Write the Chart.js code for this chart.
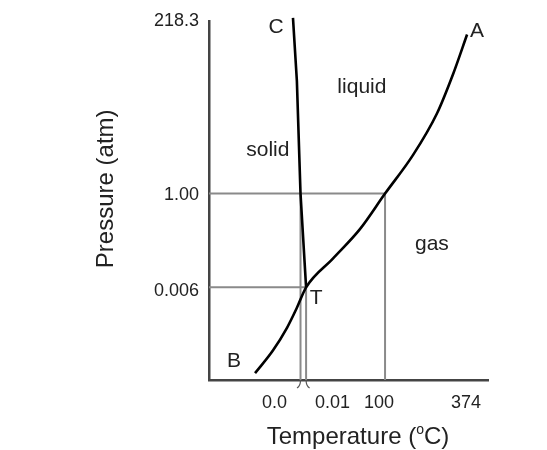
<!DOCTYPE html>
<html>
<head>
<meta charset="utf-8">
<script src="https://cdn.jsdelivr.net/npm/chart.js@4"></script>
<style>
  body { margin: 0; background: #fff; }
  #wrap { width: 547px; height: 450px; }
</style>
</head>
<body>
<div id="wrap"><canvas id="phase"></canvas></div>
<script>
// schematic phase diagram of water: axes are not to scale,
// so values are positions on a 0-100 schematic grid
const vaporU = [16.5, 22.9, 28.0, 31.5, 34.8, 44.4, 54.1, 63.1, 73.1, 81.7, 87.5, 92.5];
const vaporV = [1.9, 8.2, 14.6, 20.1, 25.8, 33.8, 42.0, 51.9, 62.6, 74.2, 85.2, 96.2];
const meltU = [34.8, 32.8, 31.5, 30.1];
const meltV = [25.8, 51.9, 83.2, 100.8];

// guide lines: 1 atm / 100 C, triple point, 0 C at 1 atm
const oneAtmU = [0, 63.1, 63.1];
const oneAtmV = [51.9, 51.9, 0];
const tripleU = [0, 34.8, 34.8];
const tripleV = [25.8, 25.8, 0];
const freezeU = [32.8, 32.8];
const freezeV = [51.9, 0];

const tempLabels = ["0.0", "0.01", "100", "374"];
const tempPos = [23.5, 44.3, 60.9, 92.1];
const presLabels = ["218.3", "1.00", "0.006"];
const presPos = [100, 51.6, 24.9];

const zip = (us, vs) => us.map((u, i) => ({ x: u, y: vs[i] }));

const FONT = "'Liberation Sans', Arial, sans-serif";
const TEXT = "#222";

// region names and curve letters, placed in schematic units
const notes = [
  { text: "C", u: 24.0, v: 96.7 },
  { text: "A", u: 96.1, v: 95.6 },
  { text: "liquid", u: 54.8, v: 79.9 },
  { text: "solid", u: 21.1, v: 62.4 },
  { text: "gas", u: 79.9, v: 36.3 },
  { text: "T", u: 38.4, v: 21.2 },
  { text: "B", u: 9.0, v: 3.6 },
];

const extras = {
  id: "extras",
  afterDraw(chart) {
    const ctx = chart.ctx;
    const xs = chart.scales.x;
    const ys = chart.scales.y;
    const area = chart.chartArea;
    ctx.save();
    ctx.fillStyle = TEXT;
    ctx.font = "21px " + FONT;
    ctx.textAlign = "center";
    ctx.textBaseline = "alphabetic";
    notes.forEach((n) => {
      ctx.fillText(n.text, xs.getPixelForValue(n.u), ys.getPixelForValue(n.v));
    });

    // little break marks under the 0.0 / 0.01 lines
    ctx.strokeStyle = "#555";
    ctx.lineWidth = 1.2;
    [[freezeU[0], -1], [tripleU[1], 1]].forEach(([u, dir]) => {
      const px = xs.getPixelForValue(u);
      ctx.beginPath();
      ctx.moveTo(px, area.bottom);
      ctx.quadraticCurveTo(px, area.bottom + 6, px + dir * 3.5, area.bottom + 8);
      ctx.stroke();
    });

    // y title
    ctx.font = "24px " + FONT;
    ctx.textBaseline = "middle";
    ctx.translate(area.left - 103, area.top + 168);
    ctx.rotate(-Math.PI / 2);
    ctx.fillText("Pressure (atm)", 0, 0);
    ctx.setTransform(1, 0, 0, 1, 0, 0);

    // x title with superscript o
    const big = "24px " + FONT;
    const small = "14px " + FONT;
    ctx.textAlign = "left";
    ctx.textBaseline = "alphabetic";
    ctx.font = big;
    const a = "Temperature (";
    const c = "C)";
    const wa = ctx.measureText(a).width;
    const wc = ctx.measureText(c).width;
    ctx.font = small;
    const wo = ctx.measureText("o").width;
    const total = wa + wo + wc;
    const x0 = 358 - total / 2;
    const base = 444;
    ctx.font = big;
    ctx.fillText(a, x0, base);
    ctx.font = small;
    ctx.fillText("o", x0 + wa, base - 10);
    ctx.font = big;
    ctx.fillText(c, x0 + wa + wo, base);
    ctx.restore();
  },
};

const curve = { borderColor: "#000", borderWidth: 2.6, pointRadius: 0, fill: false };
const guide = { borderColor: "#8a8a8a", borderWidth: 2, pointRadius: 0, fill: false, tension: 0 };

new Chart(document.getElementById("phase"), {
  type: "line",
  data: {
    datasets: [
      { ...curve, label: "vapor", data: zip(vaporU, vaporV), cubicInterpolationMode: "monotone", order: 1 },
      { ...curve, label: "melt", data: zip(meltU, meltV), tension: 0, clip: false, order: 1 },
      { ...guide, label: "1 atm", data: zip(oneAtmU, oneAtmV), order: 2 },
      { ...guide, label: "triple", data: zip(tripleU, tripleV), order: 2 },
      { ...guide, label: "0 C", data: zip(freezeU, freezeV), order: 2 },
    ],
  },
  options: {
    responsive: true,
    maintainAspectRatio: false,
    animation: false,
    layout: { padding: { left: 0, right: 59, top: 16, bottom: 0 } },
    plugins: { legend: { display: false }, tooltip: { enabled: false } },
    scales: {
      x: {
        type: "linear",
        min: 0,
        max: 100,
        grid: { display: false, drawTicks: false },
        border: { display: true, color: "#444", width: 2.5 },
        afterBuildTicks: (s) => { s.ticks = tempPos.map((v) => ({ value: v })); },
        afterFit: (s) => { s.height = 70; },
        ticks: {
          autoSkip: false,
          maxRotation: 0,
          padding: 12,
          color: TEXT,
          font: { family: FONT, size: 18 },
          callback: (v, i) => tempLabels[i],
        },
      },
      y: {
        type: "linear",
        min: 0,
        max: 100,
        grid: { display: false, drawTicks: false },
        border: { display: true, color: "#444", width: 2.5 },
        afterBuildTicks: (s) => { s.ticks = presPos.map((v) => ({ value: v })); },
        afterFit: (s) => { s.width = 209; },
        ticks: {
          autoSkip: false,
          padding: 10,
          color: TEXT,
          font: { family: FONT, size: 18 },
          callback: (v, i) => presLabels[i],
        },
      },
    },
  },
  plugins: [extras],
});
</script>
</body>
</html>
